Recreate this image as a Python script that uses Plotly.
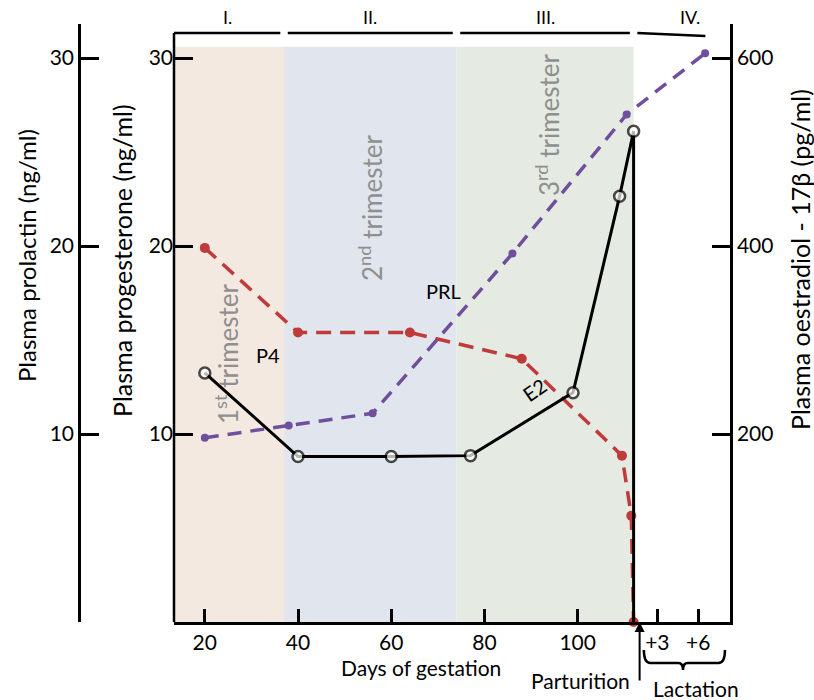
import plotly.graph_objects as go

# ---------------- data ----------------
E2_DAYS = [20, 40, 60, 77, 99, 109, 112, 112]
E2_PGML = [265, 176, 176, 177, 244, 453, 522, 0]

P4_DAYS = [20, 40, 64, 88, 109.5, 111.5, 112]
P4_NGML = [19.9, 15.4, 15.4, 14.0, 8.85, 5.65, 0]

PRL_GEST_DAYS = [20, 38, 56, 86, 110.5]
PRL_GEST_NGML = [9.8, 10.45, 11.1, 19.6, 27.0]
PRL_LACT_DAYS = [6.5]
PRL_LACT_NGML = [30.25]

X_TICK_DAYS = [20, 40, 60, 80, 100]
LACT_TICK_DAYS = [3, 6]
LACT_TICK_TEXT = ["+3", "+6"]
PARTURITION_DAY = 112
TRIMESTER_BOUNDS = [37, 74, 112]
TRIMESTER_LABELS = ["1<sup>st</sup> trimester", "2<sup>nd</sup> trimester", "3<sup>rd</sup> trimester"]
PHASE_LABELS = ["I.", "II.", "III.", "IV."]
PROLACTIN_TICKS = [10, 20, 30]
PROGESTERONE_TICKS = [10, 20, 30]
OESTRADIOL_TICKS = [200, 400, 600]

# ---------------- style / scale constants ----------------
W, H = 814, 700
FONT = "Lato"
LACT_SCALE = 2.93          # axis units per lactation day (schematic stretch)
LACT_ORIGIN = PARTURITION_DAY - 3.7
X_RANGE = [13.39, 132.68]
Y_TOP_OUT = 31.81          # prolactin / progesterone range (ng/ml)
Y_TOP_IN = 31.33           # top of progesterone axis line
RED = "#c03a3a"
PURPLE = "#6f4f9b"
GRAY = "#8f8f8f"
SHADES = ["#f3e9e1", "#e1e6ee", "#e5eae2"]


def lact_pos(d):
    return LACT_ORIGIN + LACT_SCALE * d


def px(xp):
    return xp / W


def py(yp):
    return 1 - yp / H


dom_x = [px(174), px(730)]
dom_y = [py(622), py(24)]

fig = go.Figure()

# E2 (oestradiol) - black solid, open circles
fig.add_trace(go.Scatter(
    x=E2_DAYS, y=E2_PGML, yaxis="y2", mode="lines+markers",
    line=dict(color="black", width=3),
    marker=dict(symbol="circle", color="white", size=[11] * (len(E2_DAYS) - 1) + [0],
                line=dict(color="black", width=2.5)),
    showlegend=False, cliponaxis=False))

# P4 (progesterone) - red dashed
fig.add_trace(go.Scatter(
    x=P4_DAYS, y=P4_NGML, yaxis="y", mode="lines+markers",
    line=dict(color=RED, width=3.5, dash="15px,9px"),
    marker=dict(color=RED, size=10),
    showlegend=False, cliponaxis=False))

# PRL (prolactin) - purple dashed
prl_x = PRL_GEST_DAYS + [lact_pos(d) for d in PRL_LACT_DAYS]
prl_y = PRL_GEST_NGML + PRL_LACT_NGML
fig.add_trace(go.Scatter(
    x=prl_x, y=prl_y, yaxis="y3", mode="lines+markers",
    line=dict(color=PURPLE, width=3.5, dash="14px,9px"),
    marker=dict(color=PURPLE, size=8),
    showlegend=False, cliponaxis=False))

shapes = []
# trimester shading
starts = [X_RANGE[0]] + TRIMESTER_BOUNDS[:-1]
for x0, x1, c in zip(starts, TRIMESTER_BOUNDS, SHADES):
    shapes.append(dict(type="rect", xref="x", yref="y", x0=x0, x1=x1, y0=0, y1=30.6,
                       fillcolor=c, line=dict(width=0), layer="below"))
# progesterone axis line (shorter than the outer axes)
shapes.append(dict(type="line", xref="paper", yref="y", x0=px(174), x1=px(174), y0=0, y1=Y_TOP_IN,
                   line=dict(color="black", width=2.5)))
# phase bracket segments along the top
g = 0.8
seg = [(X_RANGE[0], TRIMESTER_BOUNDS[0] - g),
       (TRIMESTER_BOUNDS[0] + g, TRIMESTER_BOUNDS[1] - g),
       (TRIMESTER_BOUNDS[1] + g, TRIMESTER_BOUNDS[2] - g),
       (TRIMESTER_BOUNDS[2] + g, 127.4)]
for i, (a, b) in enumerate(seg):
    shapes.append(dict(type="line", xref="x", yref="y", x0=a, x1=b, y0=Y_TOP_IN,
                       y1=Y_TOP_IN - (0.16 if i == 3 else 0),
                       line=dict(color="black", width=2.5)))
# lactation brace
b_hi, b_mid, b_lo = py(650), py(663), py(670)
shapes.append(dict(type="path", xref="x", yref="paper",
                   path=(f"M 114.2,{b_hi} Q 114.2,{b_mid} 115.6,{b_mid} L 121.6,{b_mid} "
                         f"Q 122.6,{b_mid} 122.6,{b_lo} Q 122.6,{b_mid} 123.6,{b_mid} "
                         f"L 130.2,{b_mid} Q 131.6,{b_mid} 131.6,{b_hi}"),
                   line=dict(color="black", width=2.5)))

ann = []


def f(s, c="black"):
    return dict(family=FONT, size=s, color=c)


def txt(x, y, text, size, color="black", angle=0):
    return dict(x=px(x), y=py(y), xref="paper", yref="paper", text=text, textangle=angle,
                showarrow=False, font=f(size, color), xanchor="center", yanchor="middle")


# phase labels
phase_x = [(a + b) / 2 for a, b in seg[:3]] + [124.2]
for t, xx in zip(PHASE_LABELS, phase_x):
    ann.append(dict(x=xx, y=py(17), xref="x", yref="paper", text=t, showarrow=False,
                    font=f(18), xanchor="center", yanchor="middle"))
# trimester labels
for t, (xx, yy) in zip(TRIMESTER_LABELS, [(227, 354), (370, 208), (547, 125)]):
    ann.append(txt(xx, yy, t, 26, GRAY, -90))
# series labels
ann.append(txt(268, 355, "P4", 20))
ann.append(txt(443, 291, "PRL", 20))
ann.append(txt(534, 390, "E2", 20, angle=-35))
# axis titles
ann.append(txt(27, 256, "Plasma prolactin (ng/ml)", 24, angle=-90))
ann.append(txt(122, 260, "Plasma progesterone (ng/ml)", 25, angle=-90))
ann.append(txt(800, 260, "Plasma oestradiol - 17β (pg/ml)", 25, angle=-90))
# bottom texts
ann.append(txt(421, 667, "Days of gestation", 21))
ann.append(txt(580, 680, "Parturition", 21))
ann.append(txt(696, 688, "Lactation", 21))
# parturition arrow
ann.append(dict(x=PARTURITION_DAY, y=0, xref="x", yref="y", text="", showarrow=True,
                ax=0, ay=60, arrowhead=2, arrowsize=1, arrowwidth=2, arrowcolor="black", xshift=6))

tickfont = f(21)
fig.update_layout(
    width=W, height=H, margin=dict(l=0, r=0, t=0, b=0),
    paper_bgcolor="white", plot_bgcolor="white",
    font=dict(family=FONT, color="black"),
    shapes=shapes, annotations=ann,
    xaxis=dict(domain=dom_x, range=X_RANGE, anchor="y", showline=True, linecolor="black", linewidth=2.5,
               ticks="inside", ticklen=13, tickwidth=2.5, tickcolor="black",
               tickvals=X_TICK_DAYS + [lact_pos(d) for d in LACT_TICK_DAYS],
               ticktext=[str(v) for v in X_TICK_DAYS] + LACT_TICK_TEXT,
               tickfont=tickfont, showgrid=False, zeroline=False, automargin=False),
    yaxis=dict(domain=dom_y, range=[0, Y_TOP_OUT], anchor="x", side="left", showline=False,
               ticks="inside", ticklen=19, tickwidth=2.5, tickcolor="black",
               tickvals=PROGESTERONE_TICKS, tickfont=tickfont, showgrid=False, zeroline=False,
               automargin=False),
    yaxis2=dict(range=[0, Y_TOP_OUT * 20], overlaying="y", anchor="x", side="right", showline=True,
                linecolor="black", linewidth=2.5, ticks="inside", ticklen=18, tickwidth=2.5,
                tickcolor="black", tickvals=OESTRADIOL_TICKS, tickfont=tickfont, showgrid=False,
                zeroline=False, automargin=False),
    yaxis3=dict(range=[0, Y_TOP_OUT], overlaying="y", anchor="free", position=px(79), side="left",
                showline=True, linecolor="black", linewidth=2.5, ticks="inside", ticklen=18,
                tickwidth=2.5, tickcolor="black", tickvals=PROLACTIN_TICKS, tickfont=tickfont,
                showgrid=False, zeroline=False, automargin=False),
)

fig.write_html("out.html", config={"displayModeBar": False},
               post_script="document.body.style.margin='0';document.body.style.overflow='hidden';")
